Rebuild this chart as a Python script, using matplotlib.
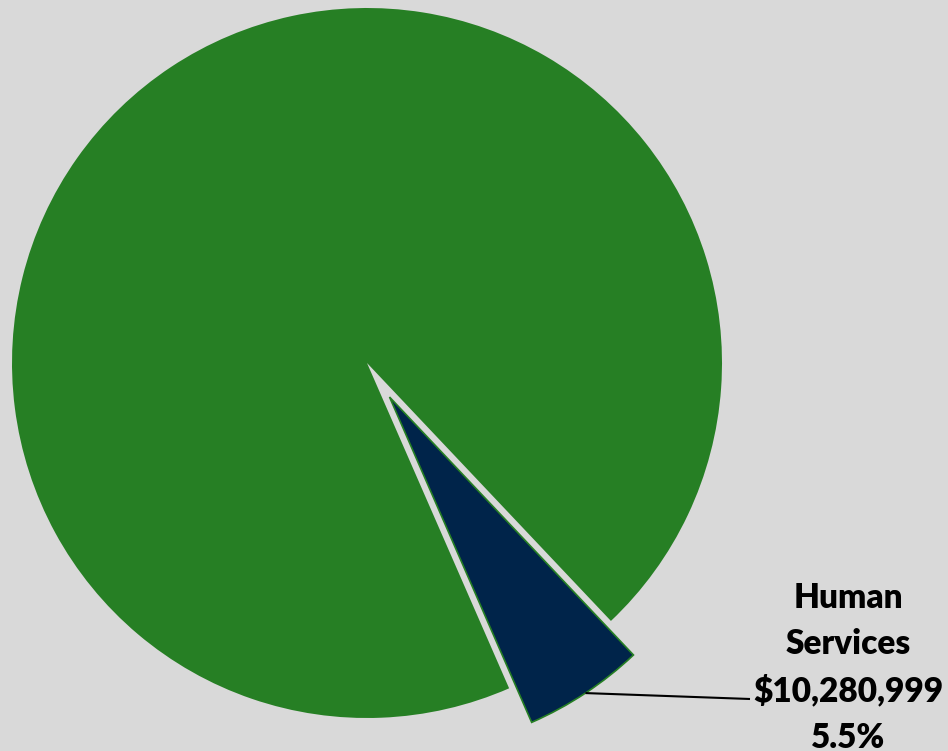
import numpy as np
import matplotlib.pyplot as plt

# budget split: Human Services vs. everything else
labels = ["Other", "Human Services"]
amounts = [176_650_000, 10_280_999]
colors = ["#267F24", "#00244A"]
explode = [0, 0.115]

bg = "#D9D9D9"

fig = plt.figure(figsize=(9.48, 7.51), dpi=100, facecolor=bg)
ax = fig.add_axes([0, 0, 1, 1])
ax.set_facecolor(bg)

wedges, _ = ax.pie(amounts, colors=colors, explode=explode, startangle=-46.6,
                   counterclock=True, radius=1.0)
wedges[0].set_edgecolor("none")
wedges[1].set_edgecolor("#267F24")
wedges[1].set_linewidth(1.2)

# place the pie so that 1 data unit = 355 px, centre at (367, 363) px
scale = 355.0
cx, cy = 367.0, 751.0 - 363.0
ax.set_aspect("auto")
ax.set_xlim(-cx / scale, (948 - cx) / scale)
ax.set_ylim(-cy / scale, (751 - cy) / scale)
ax.axis("off")

# label for the exploded slice
hs = wedges[1]
mid = np.deg2rad((hs.theta1 + hs.theta2) / 2)
x0 = hs.center[0] + hs.r * np.cos(mid)
y0 = hs.center[1] + hs.r * np.sin(mid)

total = sum(amounts)
pct = amounts[1] / total * 100
label = "Human\nServices\n${:,}\n{:.1f}%".format(amounts[1], pct)

tx, ty = (848 - cx) / scale, (751 - 668 - cy) / scale
ax.text(tx, ty, label, ha="center", va="center", fontsize=24,
        fontweight="heavy", family="Lato", linespacing=1.55, color="black")
ax.plot([x0, (750 - cx) / scale], [y0, (751 - 699 - cy) / scale],
        color="black", lw=1.5, solid_capstyle="butt")

fig.savefig("out.png", dpi=100, facecolor=bg)
